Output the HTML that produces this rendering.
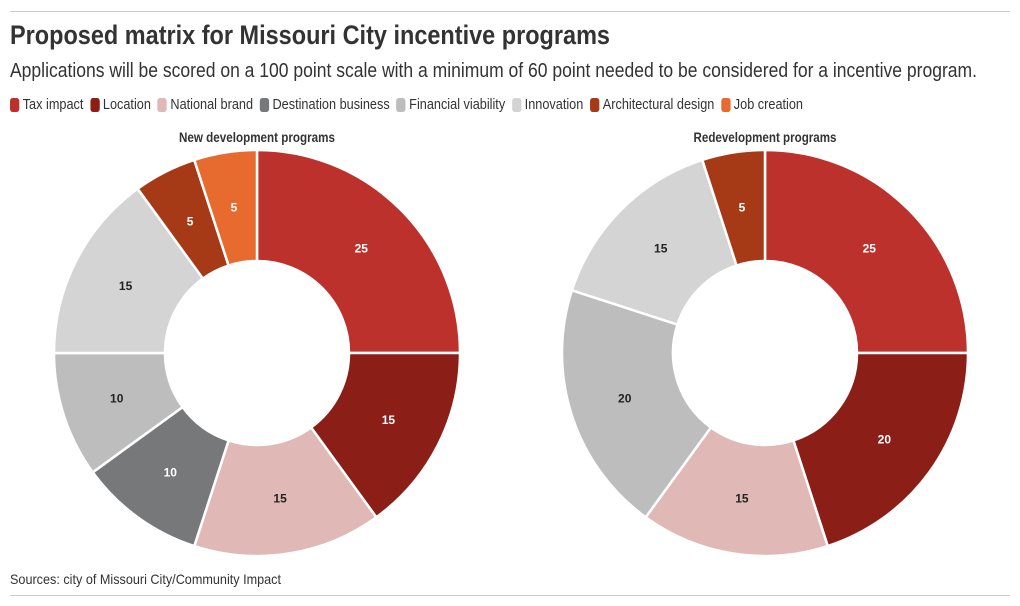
<!DOCTYPE html>
<html><head><meta charset="utf-8">
<style>
body{margin:0;width:1020px;height:606px;background:#fff;font-family:"Liberation Sans",sans-serif;color:#333;position:relative;overflow:hidden}
.rule{position:absolute;left:10px;right:10px;height:1px;background:#ccc}
.fit{position:absolute;left:10px;white-space:nowrap;transform-origin:0 0}
#title{top:20px;font-size:27px;font-weight:bold;color:#333}
#sub{top:60px;font-size:20px;color:#333}
#legend{top:96px;font-size:15px;display:flex;gap:8px;color:#333}
.li{display:flex;align-items:center}
.sw{width:11px;height:14px;border-radius:3px;margin-right:4px}
#src{top:571px;font-size:14px;color:#333}
svg{position:absolute;left:0;top:0}
</style></head><body>
<div class="rule" style="top:11px"></div>
<div id="title" class="fit" data-w="600">Proposed matrix for Missouri City incentive programs</div>
<div id="sub" class="fit" data-w="967">Applications will be scored on a 100 point scale with a minimum of 60 point needed to be considered for a incentive program.</div>
<div id="legend" class="fit" data-w="793"></div>
<svg id="chart" width="1020" height="606"></svg>
<div id="src" class="fit" data-w="271">Sources: city of Missouri City/Community Impact</div>
<div class="rule" style="top:595px"></div>
<script>
const categories=["Tax impact","Location","National brand","Destination business","Financial viability","Innovation","Architectural design","Job creation"];
const colors=["#bc312b","#8b1f17","#e0b8b5","#77787a","#bdbdbd","#d3d4d3","#a63a17","#e76b2f"];
const newDev=[25,15,15,10,10,15,5,5];
const redev=[25,20,15,0,20,15,5,0];
const chartTitles=["New development programs","Redevelopment programs"];
const darkText=[true,true,false,true,false,false,true,true];
const NS="http://www.w3.org/2000/svg";
const leg=document.getElementById('legend');
categories.forEach((c,i)=>{
  const d=document.createElement('div');d.className='li';
  
  
  d.innerHTML='<span class="sw" style="background:'+colors[i]+'"></span>'+c;
  leg.appendChild(d);
});
document.querySelectorAll('.fit').forEach(e=>{
  const w=e.getBoundingClientRect().width;const t=+e.getAttribute('data-w');
  e.style.transform='scaleX('+(t/w)+')';
});
const svg=document.getElementById('chart');
function pt(cx,cy,r,a){return [cx+r*Math.sin(a),cy-r*Math.cos(a)];}
function donut(vals,cx,cy,title,tw){
  const R=203,r=92,tot=vals.reduce((a,b)=>a+b,0);
  const t=document.createElementNS(NS,'text');
  t.setAttribute('x',cx);t.setAttribute('y',142);t.setAttribute('text-anchor','middle');
  t.setAttribute('font-size','14');t.setAttribute('font-weight','bold');t.setAttribute('fill','#333');
  t.setAttribute('textLength',tw);t.setAttribute('lengthAdjust','spacingAndGlyphs');
  
  
  t.textContent=title;svg.appendChild(t);
  let acc=0;
  vals.forEach((v,i)=>{
    if(!v)return;
    const a0=acc/tot*2*Math.PI,a1=(acc+v)/tot*2*Math.PI;acc+=v;
    const large=a1-a0>Math.PI?1:0;
    const p0=pt(cx,cy,R,a0),p1=pt(cx,cy,R,a1),q1=pt(cx,cy,r,a1),q0=pt(cx,cy,r,a0);
    const p=document.createElementNS(NS,'path');
    p.setAttribute('d',`M${p0}A${R},${R} 0 ${large} 1 ${p1}L${q1}A${r},${r} 0 ${large} 0 ${q0}Z`);
    p.setAttribute('fill',colors[i]);p.setAttribute('stroke','#fff');p.setAttribute('stroke-width','2.5');p.setAttribute('stroke-linejoin','round');
    
    
    svg.appendChild(p);
    const m=pt(cx,cy,(R+r)/2,(a0+a1)/2);
    const l=document.createElementNS(NS,'text');
    l.setAttribute('x',m[0]);l.setAttribute('y',m[1]+4);l.setAttribute('text-anchor','middle');
    l.setAttribute('font-size','12');l.setAttribute('font-weight','bold');
    l.setAttribute('fill',darkText[i]?'#fff':'#222');
    
    
    l.textContent=v;svg.appendChild(l);
  });
}
donut(newDev,257,353,chartTitles[0],156);
donut(redev,765,353,chartTitles[1],143);
</script>
</body></html>
